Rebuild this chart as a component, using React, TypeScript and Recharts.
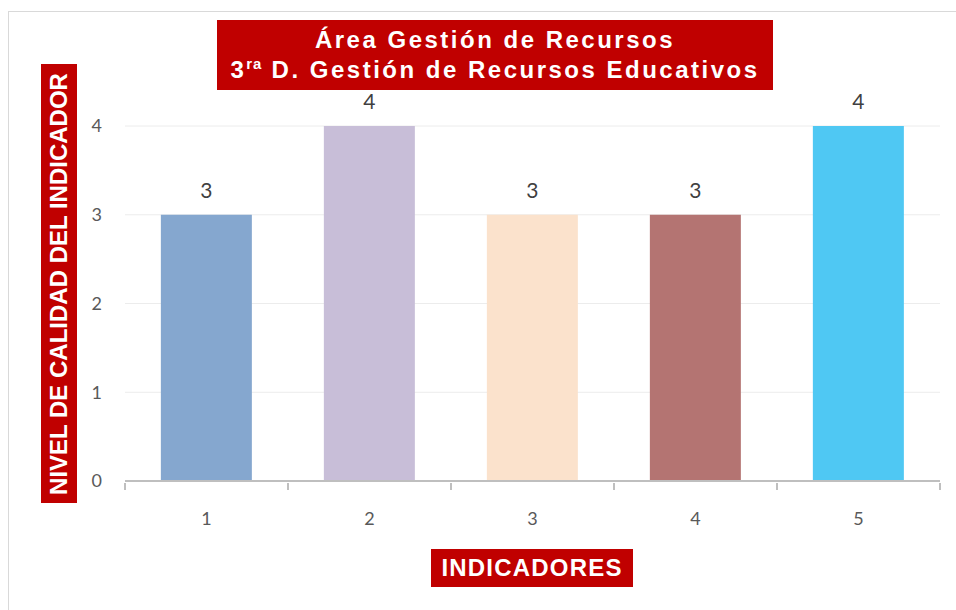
import React from "react";
import { BarChart, Bar, XAxis, YAxis, CartesianGrid, Cell, LabelList } from "recharts";

const categories = ["1", "2", "3", "4", "5"];
const values = [3, 4, 3, 3, 4];
const barColors = ["#85A7CF", "#C8BED8", "#FBE2CC", "#B47472", "#4FC8F3"];
const yTicks = [0, 1, 2, 3, 4];
const titleLine1 = "Área Gestión de Recursos";
const titleLine2a = "3";
const titleLine2sup = "ra";
const titleLine2b = " D. Gestión de Recursos Educativos";
const yLabel = "NIVEL DE CALIDAD DEL INDICADOR";
const xLabel = "INDICADORES";

const data = categories.map((c, i) => ({ name: c, value: values[i] }));

const W = 956;
const H = 610;
const RED = "#C00000";
const AXIS = "#BFBFBF";
const SANS = "'Liberation Sans', Arial, sans-serif";

const XTick = (props: any) => {
  const { x, y, payload, index, visibleTicksCount } = props;
  const half = payload && payload.offset ? payload.offset : 81.5;
  const lines = [
    <line key="l" x1={x - half} x2={x - half} y1={y - 6} y2={y + 1} stroke={AXIS} strokeWidth={2} />,
  ];
  if (index === visibleTicksCount - 1) {
    lines.push(
      <line key="r" x1={x + half} x2={x + half} y1={y - 6} y2={y + 1} stroke={AXIS} strokeWidth={2} />
    );
  }
  return (
    <g>
      {lines}
      <text x={x} y={y + 36} textAnchor="middle" fill="#595959" fontSize={18} fontFamily="Lato, sans-serif">
        {payload.value}
      </text>
    </g>
  );
};

export default function App() {
  return (
    <div style={{ position: "absolute", left: 0, top: 0, width: W, height: H, background: "#fff", overflow: "hidden" }}>
      <div
        style={{
          position: "absolute",
          left: 8,
          top: 11,
          width: W,
          height: H,
          borderTop: "1px solid #D9D9D9",
          borderLeft: "1px solid #D9D9D9",
        }}
      />
      <BarChart
        width={W}
        height={H}
        data={data}
        margin={{ top: 126, right: 16, bottom: 0, left: 0 }}
        barCategoryGap="22%"
      >
        <CartesianGrid vertical={false} stroke="#ECECEC" strokeWidth={1} />
        <XAxis
          dataKey="name"
          height={129}
          axisLine={{ stroke: AXIS, strokeWidth: 2 }}
          tickLine={false}
          tick={<XTick />}
          interval={0}
        />
        <YAxis
          width={125}
          domain={[0, 4]}
          ticks={yTicks}
          axisLine={false}
          tickLine={false}
          tickMargin={17}
          tick={{ fill: "#595959", fontSize: 18, fontFamily: "Lato, sans-serif" }}
        />
        <Bar dataKey="value" isAnimationActive={false}>
          {data.map((d, i) => (
            <Cell key={d.name} fill={barColors[i]} />
          ))}
          <LabelList
            dataKey="value"
            position="top"
            offset={17}
            fill="#404040"
            fontSize={21}
            fontFamily="Lato, sans-serif"
          />
        </Bar>
      </BarChart>

      <div
        style={{
          position: "absolute",
          left: 217,
          top: 20,
          width: 556,
          height: 70,
          background: RED,
          color: "#fff",
          fontFamily: SANS,
          fontWeight: "bold",
          fontSize: 24,
          letterSpacing: 2.5,
          textAlign: "center",
          lineHeight: "30px",
          paddingTop: 5,
          boxSizing: "border-box",
          whiteSpace: "nowrap",
        }}
      >
        <div>{titleLine1}</div>
        <div>
          {titleLine2a}
          <sup style={{ fontSize: 15, lineHeight: 0, verticalAlign: "super", letterSpacing: 1 }}>{titleLine2sup}</sup>
          {titleLine2b}
        </div>
      </div>

      <div
        style={{
          position: "absolute",
          left: 41,
          top: 64,
          width: 36,
          height: 439,
          background: RED,
        }}
      >
        <div
          style={{
            position: "absolute",
            left: 18,
            top: 219.5,
            transform: "translate(-50%, -50%) rotate(-90deg)",
            whiteSpace: "nowrap",
            color: "#fff",
            fontFamily: SANS,
            fontWeight: "bold",
            fontSize: 24,
            lineHeight: "36px",
          }}
        >
          {yLabel}
        </div>
      </div>

      <div
        style={{
          position: "absolute",
          left: 431,
          top: 549,
          width: 202,
          height: 38,
          background: RED,
          color: "#fff",
          fontFamily: SANS,
          fontWeight: "bold",
          fontSize: 24,
          letterSpacing: 1.2,
          lineHeight: "38px",
          textAlign: "center",
        }}
      >
        {xLabel}
      </div>
    </div>
  );
}
